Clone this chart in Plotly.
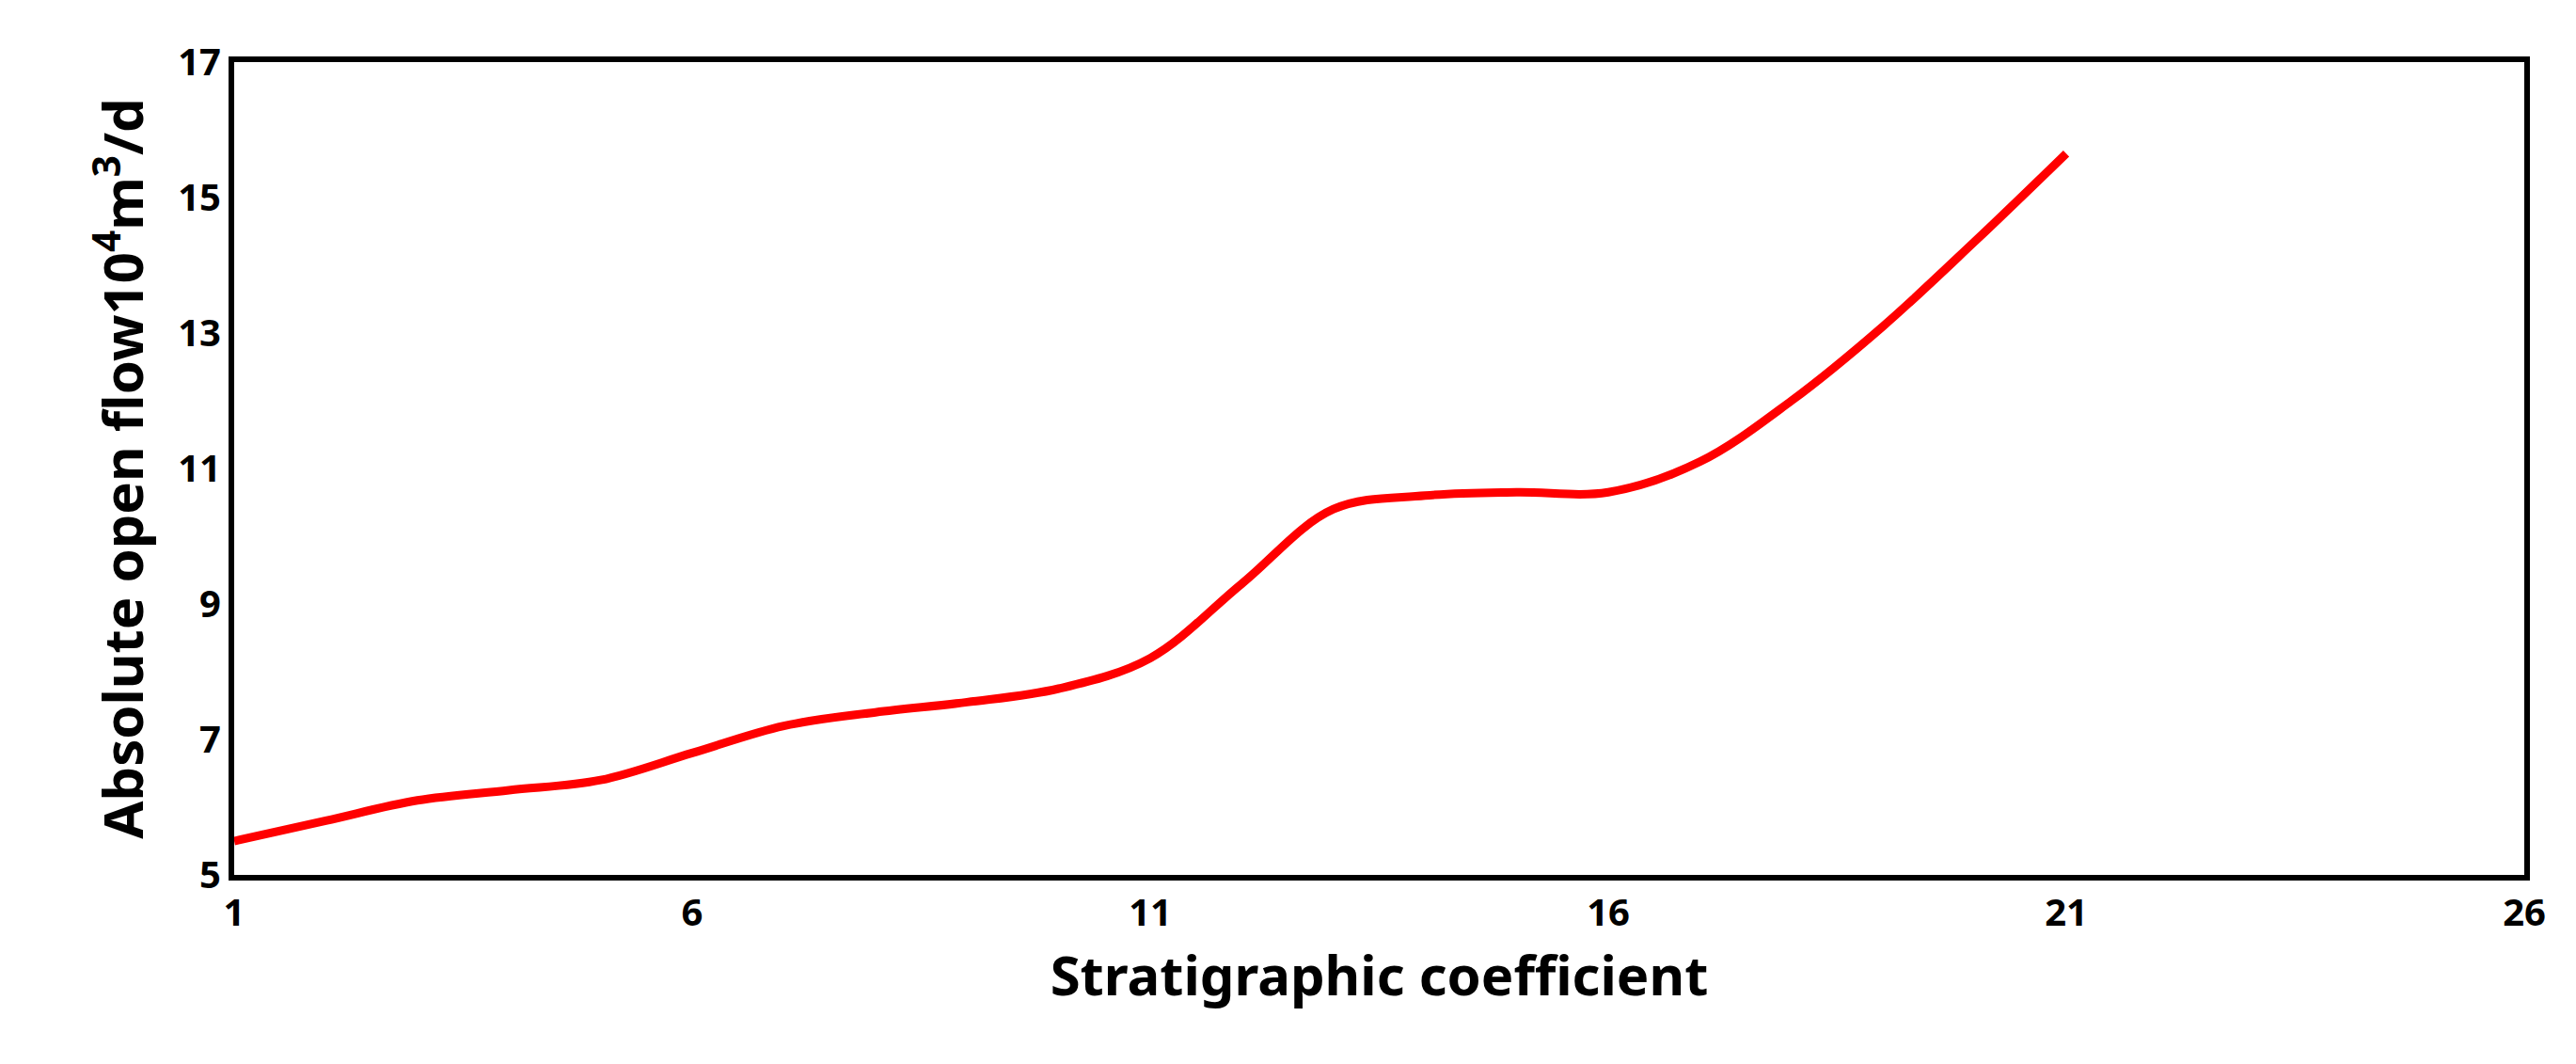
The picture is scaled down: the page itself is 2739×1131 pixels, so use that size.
import plotly.graph_objects as go

x_vals = list(range(1, 22))
y_vals = [5.5, 5.8, 6.1, 6.25, 6.4, 6.8, 7.2, 7.4, 7.55, 7.75, 8.2, 9.3, 10.4, 10.6, 10.65, 10.65, 11.1, 12.0, 13.1, 14.35, 15.65]
x_ticks = [1, 6, 11, 16, 21, 26]
y_ticks = [5, 7, 9, 11, 13, 15, 17]

fig = go.Figure(go.Scatter(x=x_vals, y=y_vals, mode="lines",
                           line=dict(color="#ff0000", width=9, shape="spline", smoothing=1.0)))
font = "Noto Sans"
fig.update_layout(
    width=2739, height=1131, plot_bgcolor="white", paper_bgcolor="white",
    margin=dict(l=241, r=63, t=58, b=209), showlegend=False,
    font=dict(family=font, color="black"),
)
fig.update_xaxes(range=[1, 26], tickvals=x_ticks, showgrid=False, zeroline=False,
                 showline=True, linecolor="black", linewidth=6, mirror=True,
                 ticks="", tickfont=dict(size=40, family=font, weight="bold"),
                 title=dict(text="<b>Stratigraphic coefficient</b>", font=dict(size=58, family=font)))
fig.update_yaxes(range=[5, 17], tickvals=y_ticks, showgrid=False, zeroline=False,
                 showline=True, linecolor="black", linewidth=6, mirror=True,
                 ticks="", tickfont=dict(size=40, family=font, weight="bold"),
                 title=dict(text="<b>Absolute open flow10<sup>4</sup>m<sup>3</sup>/d</b>", font=dict(size=58, family=font), standoff=20))
fig.write_html("out.html")
